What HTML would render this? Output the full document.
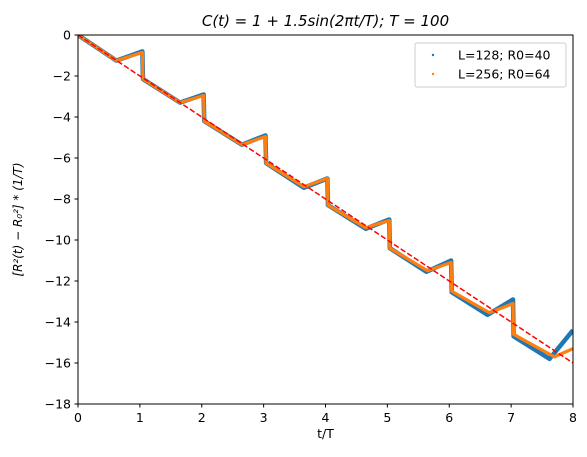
<!DOCTYPE html>
<html><head><meta charset="utf-8"><style>
body{margin:0;background:#fff;}
svg{display:block;font-family:"DejaVu Sans","Liberation Sans",sans-serif;}
</style></head><body>
<svg id="chart" width="587" height="457" xmlns="http://www.w3.org/2000/svg"></svg>
<script>
const xTicks=[0,1,2,3,4,5,6,7,8];
const yTicks=[0,-2,-4,-6,-8,-10,-12,-14,-16,-18];
const blueT=[0,0.62,1.04,1.05,1.65,2.03,2.04,2.65,3.03,3.04,3.65,4.03,4.04,4.65,5.03,5.04,5.63,6.03,6.04,6.62,7.03,7.04,7.62,8];
const blueV=[0,-1.25,-0.8,-2.15,-3.3,-2.9,-4.2,-5.35,-4.9,-6.25,-7.45,-7.0,-8.3,-9.45,-9.0,-10.4,-11.55,-11.0,-12.55,-13.65,-12.9,-14.7,-15.8,-14.4];
const orangeT=[0,0.62,1.04,1.05,1.65,2.03,2.04,2.65,3.03,3.04,3.65,4.03,4.04,4.65,5.03,5.04,5.65,6.03,6.04,6.65,7.03,7.04,7.7,8];
const orangeV=[0,-1.25,-0.85,-2.15,-3.3,-2.95,-4.2,-5.35,-4.95,-6.25,-7.4,-7.0,-8.3,-9.4,-9.05,-10.4,-11.5,-11.1,-12.5,-13.55,-13.1,-14.6,-15.7,-15.3];
const fitT=[0,8];
const fitV=[0,-16];
const svg=document.getElementById('chart');
const NS='http://www.w3.org/2000/svg';
const X0=78,X1=573,Y0=35,Y1=404;
const xs=t=>X0+(t-0)/(8-0)*(X1-X0);
const ys=v=>Y0+(0-v)/(0-(-18))*(Y1-Y0);
function mk(tag,attrs,parent){const e=document.createElementNS(NS,tag);for(const k in attrs)e.setAttribute(k,attrs[k]);(parent||svg).appendChild(e);return e;}
function pts(T,V){return T.map((t,i)=>xs(t).toFixed(2)+','+ys(V[i]).toFixed(2)).join(' ');}
const defs=mk('defs',{});const cp=mk('clipPath',{id:'clip'},defs);mk('rect',{x:X0,y:Y0,width:X1-X0,height:Y1-Y0},cp);
const g=mk('g',{'clip-path':'url(#clip)'});
let e;
e=mk('polyline',{points:pts(blueT,blueV),fill:'none',stroke:'#1f77b4','stroke-width':4.5,'stroke-linejoin':'round'},g);


e=mk('polyline',{points:pts(orangeT,orangeV),fill:'none',stroke:'#ff7f0e','stroke-width':3.2,'stroke-linejoin':'round'},g);


e=mk('polyline',{points:pts(fitT,fitV),fill:'none',stroke:'#ff0000','stroke-width':1.5,'stroke-dasharray':'5.5,2.4'},g);


e=mk('rect',{x:X0,y:Y0,width:X1-X0,height:Y1-Y0,fill:'none',stroke:'#000','stroke-width':1});


xTicks.forEach(t=>{const x=xs(t);mk('line',{x1:x,x2:x,y1:Y1,y2:Y1+3.5,stroke:'#000'});
 e=mk('text',{x:x,y:Y1+18,'font-size':12.5,'text-anchor':'middle'});e.textContent=t;
 
 });
yTicks.forEach(v=>{const y=ys(v);mk('line',{x1:X0-3.5,x2:X0,y1:y,y2:y,stroke:'#000'});
 e=mk('text',{x:X0-7,y:y+4.5,'font-size':12.5,'text-anchor':'end'});e.textContent=v===0?'0':'\u2212'+Math.abs(v);
 
 });
e=mk('text',{x:(X0+X1)/2,y:Y1+34,'font-size':12.5,'text-anchor':'middle'});e.textContent='t/T';


e=mk('text',{x:0,y:0,'font-size':12,'text-anchor':'middle',transform:`translate(22,${(Y0+Y1)/2}) rotate(-90)`,'font-style':'italic'});
e.textContent='[R²(t) − R₀²] * (1/T)';


e=mk('text',{x:(X0+X1)/2,y:26,'font-size':15,'text-anchor':'middle','font-style':'italic'});
e.textContent='C(t) = 1 + 1.5sin(2πt/T); T = 100';


const lg=mk('g',{});


mk('rect',{x:415,y:43,width:151,height:44,rx:2,fill:'#fff',stroke:'#ccc','stroke-width':1},lg);
mk('circle',{cx:433,cy:55,r:1.2,fill:'#1f77b4'},lg);
mk('circle',{cx:433,cy:74,r:1.2,fill:'#ff7f0e'},lg);
e=mk('text',{x:458,y:59.5,'font-size':12.5},lg);e.textContent='L=128; R0=40';


e=mk('text',{x:458,y:78.5,'font-size':12.5},lg);e.textContent='L=256; R0=64';


</script>
</body></html>
